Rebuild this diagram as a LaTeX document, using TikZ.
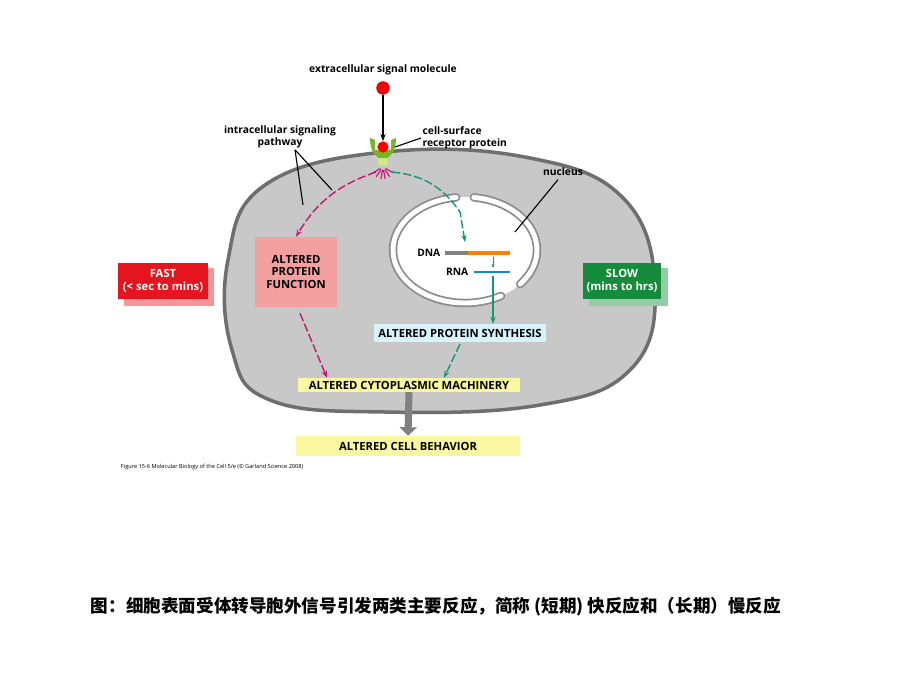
\documentclass[tikz,border=0pt]{standalone}
\usepackage{fontspec}
\setsansfont{Open Sans}
\newfontfamily\cjk{Noto Sans CJK SC}
\usetikzlibrary{arrows.meta,positioning,calc}
\definecolor{cellgray}{RGB}{200,200,200}
\definecolor{rimgray}{RGB}{110,110,110}
\definecolor{fastred}{RGB}{230,20,30}
\definecolor{slowgreen}{RGB}{20,140,60}
\definecolor{pinkbox}{RGB}{244,160,160}
\definecolor{paleyellow}{RGB}{250,248,160}
\definecolor{sigmag}{RGB}{200,20,110}
\definecolor{sigteal}{RGB}{20,150,120}
\definecolor{recgreen}{RGB}{120,180,40}
\tikzset{
  lbl/.style={font=\sffamily\bfseries\fontsize{7.3}{8.5}\selectfont, align=center, inner sep=1pt},
  caps/.style={font=\sffamily\bfseries\fontsize{8}{9}\selectfont, align=center},
  tag/.style={caps, text=white, minimum width=2.25cm, minimum height=0.92cm, inner sep=1pt},
  magarrow/.style={sigmag, line width=1pt, dash pattern=on 6pt off 2pt, -{Stealth[length=5pt]}},
  tealarrow/.style={sigteal, line width=1pt, dash pattern=on 6pt off 2pt, -{Stealth[length=5pt]}},
}
\begin{document}
\begin{tikzpicture}[x=0.025cm, y=-0.025cm]
\useasboundingbox (0,0) rectangle (920,690);
\fill[white] (0,0) rectangle (920,690);
% cell
\draw[rimgray, line width=2.5pt, fill=cellgray]
  plot[smooth cycle, tension=0.7] coordinates {(385,152) (530,158) (625,200) (655,290) (630,370) (540,405) (385,412) (270,400) (232,350) (228,260) (265,185)};
% nucleus
\fill[white] (465,250) ellipse (72 and 53);
\foreach \a/\b in {97/300, 83/-40}{
  \draw[rimgray!80, line width=6pt, line cap=round] (465,250) ++(\a:72 and -53) arc[start angle=\a, end angle=\b, x radius=72, y radius=-53];
  \draw[white, line width=3.5pt, line cap=round] (465,250) ++(\a:72 and -53) arc[start angle=\a, end angle=\b, x radius=72, y radius=-53];
}
% receptor and signal
\node[lbl] (signal) at (383,70) {extracellular signal molecule};
\node[circle, fill=red, draw=red!70!black, minimum size=9pt, inner sep=0pt] (ligand) at (383,88) {};
\fill[recgreen] (370,138) .. controls (370,152) and (376,156) .. (378,157) -- (378,166) -- (388,166) -- (388,157) .. controls (390,156) and (396,152) .. (396,138) -- (391,140) -- (391,150) -- (375,150) -- (375,140) -- cycle;
\fill[yellow!60!green!50] (378,158) rectangle (388,166);
\node[circle, fill=red, minimum size=8pt, inner sep=0pt] (receptor) at (383,147) {};
\draw[-{Stealth[length=5pt]}, line width=0.8pt] (ligand) -- (receptor.north);
\node[lbl, align=left, anchor=west] (reclbl) at (421,138) {cell-surface\\receptor protein};
\draw[line width=0.8pt] (395,147) -- (reclbl.west);
\foreach \ang in {-150,-125,-100,-80,-55,-30}
  \draw[sigmag, line width=0.8pt] (383,167) ++(\ang:-3) -- ++(\ang:-9);
% pathways
\node[lbl] (pathlbl) at (280,137) {intracellular signaling\\pathway};
\coordinate (magstart) at (376,172);
\coordinate (tealstart) at (392,172);
\node[fill=pinkbox, caps, minimum width=2.05cm, minimum height=1.75cm] (apf) at (296,272) {ALTERED\\PROTEIN\\FUNCTION};
\draw[magarrow] (magstart) to[bend right=20] (apf.north);
\draw[tealarrow] (tealstart) to[bend left=25] (460,212) -- (465,242);
\draw[line width=0.8pt] (pathlbl.south) ++(15,0) -- (332,190);
\draw[line width=0.8pt] (pathlbl.south) ++(15,0) -- (303,205);
% nucleus contents
\node[lbl, anchor=east] (dna) at (442,253) {DNA};
\draw[gray, line width=3pt] (445,253) -- (468,253);
\draw[orange, line width=3pt] (468,253) -- (510,253);
\node[lbl, anchor=east] (rna) at (470,272) {RNA};
\draw[cyan!70!blue, line width=2pt] (474,272) -- (510,272);
\draw[sigteal, -{Stealth[length=3pt]}] (493,257) -- (493,268);
\node[lbl] (nuclbl) at (563,172) {nucleus};
\draw[line width=0.8pt] (nuclbl.south) ++(-5,2) -- (515,232);
% outcomes
\node[caps, fill=white!85!cyan] (aps) at (460,333) {ALTERED PROTEIN SYNTHESIS};
\draw[sigteal, line width=1pt, -{Stealth[length=5pt]}] (493,276) -- (aps.north -| 493,0);
\node[caps, fill=paleyellow, minimum width=5.55cm, inner sep=2pt] (acm) at (409,385) {ALTERED CYTOPLASMIC MACHINERY};
\draw[tealarrow] (aps.south) ++(0,2) -- ($(acm.north)+(35,0)$);
\draw[magarrow] (apf.south) ++(4,6) -- ($(acm.north)+(-82,0)$);
\node[caps, fill=paleyellow, minimum width=5.6cm, minimum height=0.5cm] (acb) at (408,446) {ALTERED CELL BEHAVIOR};
\draw[gray, line width=5pt, -{Triangle[length=6pt, width=12pt]}] (acm.south) -- (acb.north);
% speed tags
\fill[fastred!45] (124,268) rectangle (214,306);
\node[tag, fill=fastred] (fast) at (163,281) {FAST\\(< sec to mins)};
\fill[slowgreen!45] (589,268) rectangle (668,306);
\node[tag, fill=slowgreen, minimum width=1.95cm] (slow) at (622,281) {SLOW\\(mins to hrs)};
% captions
\node[font=\sffamily\fontsize{4}{5}\selectfont, anchor=west] (fig) at (116,467) {Figure 15-6 Molecular Biology of the Cell 5/e (© Garland Science 2008)};
\node[font=\cjk\bfseries\fontsize{12.5}{15}\selectfont, anchor=west] (cn) at (86,607) {图：细胞表面受体转导胞外信号引发两类主要反应，简称 (短期) 快反应和（长期）慢反应};
\end{tikzpicture}
\end{document}
